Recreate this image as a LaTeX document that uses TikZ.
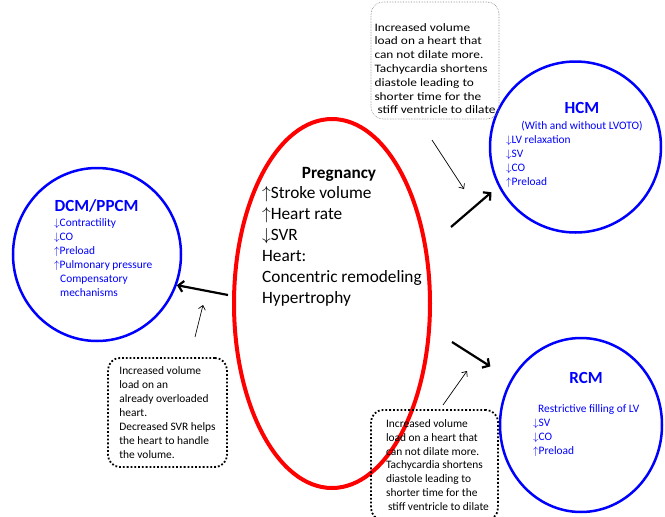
\documentclass[tikz,border=0pt]{standalone}
\usepackage{fontspec}
\setmainfont{Carlito}
\newfontfamily\widefont[FakeStretch=1.17]{Carlito}
\usetikzlibrary{arrows.meta}
\usetikzlibrary{shapes.geometric}
\newcommand{\upar}{$\uparrow$}
\newcommand{\dnar}{$\downarrow$}
\tikzset{pregshape/.style = {ellipse, draw=red, line width=4pt, inner sep=0pt,
                             minimum width=196, minimum height=369},
         cardio/.style = {ellipse, draw=blue, line width=2.5pt, inner sep=0pt},
         bigtitle/.style = {font=\fontsize{17.2}{20}\selectfont\bfseries, inner sep=0pt},
         bigline/.style = {font=\fontsize{17.3}{20.9}\selectfont, inner sep=0pt},
         cardtitle/.style = {text=blue, font=\fontsize{17}{20}\selectfont\bfseries, inner sep=0pt},
         cardline/.style = {text=blue, font=\fontsize{11.4}{14}\selectfont, inner sep=0pt},
         note/.style = {draw, dotted, line width=1.8pt, rounded corners=12pt, align=left,
                        inner sep=0pt, font=\fontsize{11.4}{13.9}\selectfont},
         thinnote/.style = {draw=gray, densely dotted, line width=0.6pt, rounded corners=12pt,
                            align=left, inner sep=0pt, font=\widefont\fontsize{11.4}{13.8}\selectfont},
         bigarrow/.style = {-{Straight Barb[length=5pt, width=11pt]}, line width=2.2pt},
         thinarrow/.style = {-{Straight Barb[length=4pt, width=7pt]}, line width=0.7pt}}

\begin{document}
\begin{tikzpicture}[x=1pt, y=-1pt]
    \useasboundingbox (0,0) rectangle (665,517);

    % pregnancy
    \node [pregshape] (preg) at (332, 303.5) {};
    \node [bigtitle, anchor=base] (pregtitle) at (339, 178) {Pregnancy};
    \foreach \txt [count=\i] in {\upar Stroke volume, \upar Heart rate, \dnar SVR,
                                 Heart:, Concentric remodeling, Hypertrophy}
      \node [bigline, anchor=base west] (preg\i) at (262, 178+20.9*\i) {\txt};

    % cardiomyopathies
    \node [cardio, minimum width=168, minimum height=173] (dcm) at (97, 254.5) {};
    \node [cardtitle, anchor=base] (dcmtitle) at (96.5, 211) {DCM/PPCM};
    \foreach \xx/\txt [count=\i] in {54/\dnar Contractility, 54/\dnar CO, 54/\upar Preload,
                                     54/\upar Pulmonary pressure, 60/Compensatory, 60/mechanisms}
      \node [cardline, anchor=base west] (dcm\i) at (\xx, 212+14*\i) {\txt};

    \node [cardio, minimum width=171, minimum height=171] (hcm) at (575.5, 147) {};
    \node [cardtitle, anchor=base] (hcmtitle) at (582, 113) {HCM};
    \node [cardline, anchor=base] (hcmsub) at (582, 129) {(With and without LVOTO)};
    \foreach \txt [count=\i] in {\dnar LV relaxation, \dnar SV, \dnar CO, \upar Preload}
      \node [cardline, anchor=base west] (hcm\i) at (506, 129+14*\i) {\txt};

    \node [cardio, minimum width=162, minimum height=174] (rcm) at (581, 425) {};
    \node [cardtitle, anchor=base] (rcmtitle) at (586, 383) {RCM};
    \foreach \xx/\txt [count=\i] in {538/Restrictive filling of LV, 533/\dnar SV,
                                     533/\dnar CO, 533/\upar Preload}
      \node [cardline, anchor=base west] (rcm\i) at (\xx, 398+14*\i) {\txt};

    % notes
    \node [thinnote, minimum width=128, minimum height=117] (topnote) at (435, 60.5)
      {\rule{0pt}{24pt}Increased volume\\ load on a heart that\\ can not dilate more.\\
       Tachycardia shortens\\ diastole leading to\\ shorter time for the\\ \hspace*{3pt}stiff ventricle to dilate};
    \node [note, minimum width=119, minimum height=109] (leftnote) at (167.5, 412.5)
      {Increased volume\\ load on an\\ already overloaded\\ heart.\\
       Decreased SVR helps\\ the heart to handle\\ the volume.};
    \node [note, minimum width=127, minimum height=110] (midnote) at (434.5, 465)
      {\hspace*{6pt}Increased volume\\ \hspace*{6pt}load on a heart that\\ \hspace*{6pt}can not dilate more.\\
       \hspace*{6pt}Tachycardia shortens\\ \hspace*{6pt}diastole leading to\\ \hspace*{6pt}shorter time for the\\ \hspace*{8pt}stiff ventricle to dilate};

    % arrows
    \coordinate (a1) at (228, 295);
    \coordinate (a2) at (451, 227);
    \coordinate (a3) at (452, 342);
    \draw [bigarrow] (a1) -- (dcm.-21);
    \draw [bigarrow, shorten >=9pt] (a2) -- (hcm.207);
    \draw [bigarrow, shorten >=24pt] (a3) -- (rcm.147);

    \coordinate (b1) at (195, 337);
    \coordinate (b1e) at (203, 305);
    \coordinate (b2) at (432, 140);
    \coordinate (b2e) at (464, 189);
    \coordinate (b3) at (443, 405);
    \coordinate (b3e) at (467, 371);
    \draw [thinarrow] (b1) -- (b1e);
    \draw [thinarrow] (b2) -- (b2e);
    \draw [thinarrow] (b3) -- (b3e);
\end{tikzpicture}
\end{document}
